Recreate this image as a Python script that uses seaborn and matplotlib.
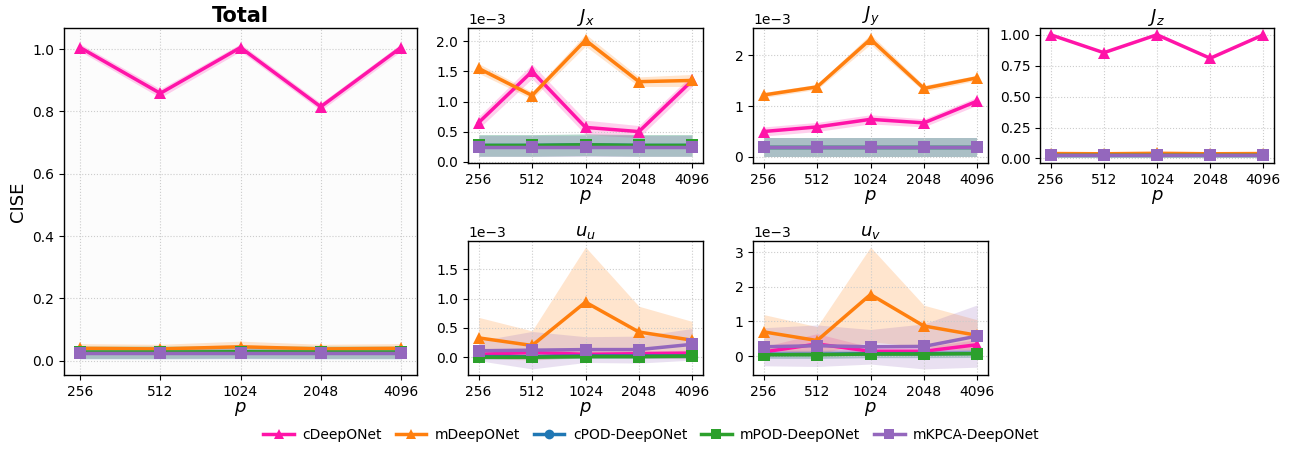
import numpy as np
import pandas as pd
import matplotlib
matplotlib.use("Agg")
import matplotlib.pyplot as plt
import seaborn as sns
from matplotlib.lines import Line2D
from matplotlib.ticker import MultipleLocator

# ---------------- data ----------------
p_values = [256, 512, 1024, 2048, 4096]
p_labels = ["256", "512", "1024", "2048", "4096"]
models = ["cDeepONet", "mDeepONet", "cPOD-DeepONet", "mPOD-DeepONet", "mKPCA-DeepONet"]
colors = ["#ff14a8", "#ff7f0e", "#1f77b4", "#2ca02c", "#9467bd"]
markers = ["^", "^", "o", "s", "s"]

# Total
total_mean = {
    "cDeepONet": [1.005, 0.858, 1.005, 0.815, 1.005],
    "mDeepONet": [0.040, 0.038, 0.045, 0.038, 0.040],
    "cPOD-DeepONet": [0.026, 0.026, 0.027, 0.026, 0.026],
    "mPOD-DeepONet": [0.028, 0.028, 0.029, 0.028, 0.028],
    "mKPCA-DeepONet": [0.025, 0.025, 0.025, 0.025, 0.025],
}
total_std = {
    "cDeepONet": [0.012, 0.014, 0.012, 0.012, 0.012],
    "mDeepONet": [0.015, 0.015, 0.018, 0.015, 0.015],
    "cPOD-DeepONet": [0.020, 0.020, 0.020, 0.020, 0.020],
    "mPOD-DeepONet": [0.020, 0.020, 0.020, 0.020, 0.020],
    "mKPCA-DeepONet": [0.020, 0.020, 0.020, 0.020, 0.020],
}
# J_x
jx_mean = {
    "cDeepONet": [0.65e-3, 1.50e-3, 0.57e-3, 0.50e-3, 1.35e-3],
    "mDeepONet": [1.55e-3, 1.10e-3, 2.02e-3, 1.33e-3, 1.35e-3],
    "cPOD-DeepONet": [0.27e-3, 0.27e-3, 0.28e-3, 0.27e-3, 0.27e-3],
    "mPOD-DeepONet": [0.27e-3, 0.27e-3, 0.28e-3, 0.27e-3, 0.27e-3],
    "mKPCA-DeepONet": [0.25e-3, 0.25e-3, 0.25e-3, 0.25e-3, 0.25e-3],
}
jx_std = {
    "cDeepONet": [0.10e-3, 0.12e-3, 0.12e-3, 0.10e-3, 0.10e-3],
    "mDeepONet": [0.08e-3, 0.06e-3, 0.10e-3, 0.08e-3, 0.10e-3],
    "cPOD-DeepONet": [0.18e-3, 0.18e-3, 0.18e-3, 0.18e-3, 0.18e-3],
    "mPOD-DeepONet": [0.18e-3, 0.18e-3, 0.18e-3, 0.18e-3, 0.18e-3],
    "mKPCA-DeepONet": [0.17e-3, 0.17e-3, 0.17e-3, 0.17e-3, 0.17e-3],
}
# J_y
jy_mean = {
    "cDeepONet": [0.50e-3, 0.59e-3, 0.74e-3, 0.67e-3, 1.10e-3],
    "mDeepONet": [1.22e-3, 1.38e-3, 2.32e-3, 1.35e-3, 1.56e-3],
    "cPOD-DeepONet": [0.19e-3, 0.19e-3, 0.19e-3, 0.19e-3, 0.19e-3],
    "mPOD-DeepONet": [0.19e-3, 0.19e-3, 0.19e-3, 0.19e-3, 0.19e-3],
    "mKPCA-DeepONet": [0.19e-3, 0.19e-3, 0.19e-3, 0.19e-3, 0.19e-3],
}
jy_std = {
    "cDeepONet": [0.09e-3, 0.09e-3, 0.09e-3, 0.08e-3, 0.08e-3],
    "mDeepONet": [0.05e-3, 0.05e-3, 0.10e-3, 0.06e-3, 0.05e-3],
    "cPOD-DeepONet": [0.19e-3, 0.19e-3, 0.19e-3, 0.19e-3, 0.19e-3],
    "mPOD-DeepONet": [0.19e-3, 0.19e-3, 0.19e-3, 0.19e-3, 0.19e-3],
    "mKPCA-DeepONet": [0.19e-3, 0.19e-3, 0.19e-3, 0.19e-3, 0.19e-3],
}
# J_z
jz_mean = {
    "cDeepONet": [1.0, 0.855, 1.0, 0.81, 1.0],
    "mDeepONet": [0.040, 0.038, 0.042, 0.038, 0.040],
    "cPOD-DeepONet": [0.026, 0.026, 0.026, 0.026, 0.026],
    "mPOD-DeepONet": [0.026, 0.026, 0.026, 0.026, 0.026],
    "mKPCA-DeepONet": [0.025, 0.025, 0.025, 0.025, 0.025],
}
jz_std = {
    "cDeepONet": [0.005, 0.008, 0.005, 0.008, 0.005],
    "mDeepONet": [0.010, 0.010, 0.010, 0.010, 0.010],
    "cPOD-DeepONet": [0.012, 0.012, 0.012, 0.012, 0.012],
    "mPOD-DeepONet": [0.012, 0.012, 0.012, 0.012, 0.012],
    "mKPCA-DeepONet": [0.012, 0.012, 0.012, 0.012, 0.012],
}
# u_u
uu_mean = {
    "cDeepONet": [0.05e-3, 0.08e-3, 0.05e-3, 0.06e-3, 0.07e-3],
    "mDeepONet": [0.33e-3, 0.20e-3, 0.94e-3, 0.43e-3, 0.29e-3],
    "cPOD-DeepONet": [0.01e-3, 0.01e-3, 0.02e-3, 0.02e-3, 0.02e-3],
    "mPOD-DeepONet": [0.00e-3, 0.00e-3, 0.01e-3, 0.01e-3, 0.02e-3],
    "mKPCA-DeepONet": [0.11e-3, 0.12e-3, 0.13e-3, 0.13e-3, 0.22e-3],
}
uu_std = {
    "cDeepONet": [0.05e-3, 0.06e-3, 0.05e-3, 0.05e-3, 0.05e-3],
    "mDeepONet": [0.35e-3, 0.25e-3, 0.94e-3, 0.44e-3, 0.32e-3],
    "cPOD-DeepONet": [0.04e-3, 0.04e-3, 0.04e-3, 0.04e-3, 0.04e-3],
    "mPOD-DeepONet": [0.03e-3, 0.03e-3, 0.03e-3, 0.03e-3, 0.03e-3],
    "mKPCA-DeepONet": [0.17e-3, 0.32e-3, 0.22e-3, 0.23e-3, 0.27e-3],
}
# u_v
uv_mean = {
    "cDeepONet": [0.12e-3, 0.35e-3, 0.14e-3, 0.14e-3, 0.33e-3],
    "mDeepONet": [0.70e-3, 0.45e-3, 1.78e-3, 0.87e-3, 0.60e-3],
    "cPOD-DeepONet": [0.05e-3, 0.05e-3, 0.07e-3, 0.07e-3, 0.08e-3],
    "mPOD-DeepONet": [0.04e-3, 0.04e-3, 0.06e-3, 0.06e-3, 0.07e-3],
    "mKPCA-DeepONet": [0.27e-3, 0.30e-3, 0.27e-3, 0.28e-3, 0.58e-3],
}
uv_std = {
    "cDeepONet": [0.15e-3, 0.30e-3, 0.12e-3, 0.12e-3, 0.15e-3],
    "mDeepONet": [0.50e-3, 0.40e-3, 1.37e-3, 0.60e-3, 0.45e-3],
    "cPOD-DeepONet": [0.12e-3, 0.12e-3, 0.12e-3, 0.12e-3, 0.12e-3],
    "mPOD-DeepONet": [0.10e-3, 0.10e-3, 0.10e-3, 0.10e-3, 0.10e-3],
    "mKPCA-DeepONet": [0.55e-3, 0.60e-3, 0.50e-3, 0.65e-3, 0.90e-3],
}

panels = [
    ("Total", total_mean, total_std),
    ("$J_x$", jx_mean, jx_std),
    ("$J_y$", jy_mean, jy_std),
    ("$J_z$", jz_mean, jz_std),
    ("$u_u$", uu_mean, uu_std),
    ("$u_v$", uv_mean, uv_std),
]
y_steps = {"Total": 0.2, "$J_x$": 0.5e-3, "$J_y$": 1e-3, "$J_z$": 0.25,
           "$u_u$": 0.5e-3, "$u_v$": 1e-3}

# ---------------- figure ----------------
W, H = 1303, 449
fig = plt.figure(figsize=(W / 100, H / 100), dpi=100)


def rect(l, r, t, b):
    return [l / W, 1 - b / H, (r - l) / W, (b - t) / H]


rects = [
    rect(64, 417, 28, 375),
    rect(468, 703, 28, 163),
    rect(753, 988, 28, 163),
    rect(1040, 1274, 28, 163),
    rect(468, 703, 241, 375),
    rect(753, 988, 241, 375),
]

xpos = np.log2(p_values)

for (title, means, stds), rc in zip(panels, rects):
    ax = fig.add_axes(rc)
    for m, c, mk in zip(models, colors, markers):
        mean = np.array(means[m])
        sd = np.array(stds[m])
        ax.fill_between(xpos, mean - sd, mean + sd, color=c, alpha=0.2, lw=0)
        df = pd.DataFrame({"p": xpos, "v": mean})
        sns.lineplot(data=df, x="p", y="v", ax=ax, color=c, marker=mk,
                     markersize=8, linewidth=2.5, markeredgewidth=0, legend=False)
    ax.set_xticks(xpos)
    ax.set_xticklabels(p_labels)
    ax.yaxis.set_major_locator(MultipleLocator(y_steps[title]))
    ax.grid(True, linestyle=":", color="#cccccc", linewidth=0.8)
    ax.set_xlabel("$p$", fontsize=13, labelpad=1)
    ax.set_ylabel("")
    ax.tick_params(labelsize=10)
    if title == "Total":
        ax.set_title(title, fontsize=15, fontweight="bold", pad=4)
        ax.set_ylabel("CISE", fontsize=13)
        ax.set_facecolor("#fcfcfc")
    else:
        ax.set_title(title, fontsize=13, pad=3)
        if title != "$J_z$":
            ax.ticklabel_format(style="sci", axis="y", scilimits=(0, 0))
    for s in ax.spines.values():
        s.set_color("black")
        s.set_linewidth(1.0)

handles = [Line2D([0], [0], color=c, marker=mk, markersize=7, linewidth=2.5,
                  markeredgewidth=0) for c, mk in zip(colors, markers)]
fig.legend(handles, models, loc="center", bbox_to_anchor=(0.5, 1 - 435 / H),
           ncol=5, frameon=False, fontsize=10, handlelength=2.2,
           handletextpad=0.6, columnspacing=1.0)

fig.savefig("out.png", dpi=100)
